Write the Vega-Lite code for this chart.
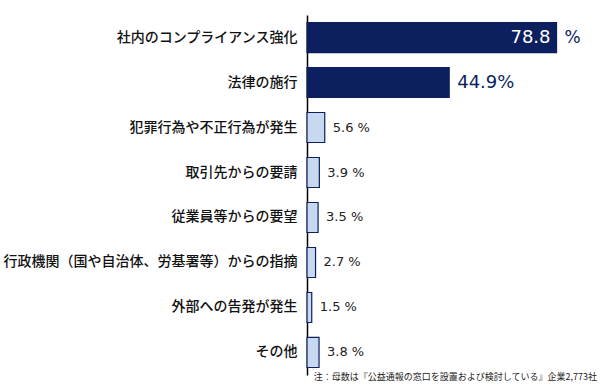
{
  "$schema": "https://vega.github.io/schema/vega-lite/v6.json",
  "width": 285,
  "height": 360,
  "autosize": {"type": "none"},
  "padding": {"left": 307, "top": 15, "right": 14, "bottom": 16},
  "background": "white",
  "title": {
    "text": "注：母数は『公益通報の窓口を設置および検討している』企業2,773社",
    "orient": "bottom",
    "anchor": "end",
    "offset": -2,
    "fontSize": 9,
    "fontWeight": "normal",
    "font": "Noto Sans CJK JP",
    "color": "#222",
    "dx": 5
  },
  "data": {
    "values": [
      {"item": "社内のコンプライアンス強化", "value": 78.8, "group": "dark", "kind": "inside", "label": "78.8"},
      {"item": "法律の施行", "value": 44.9, "group": "dark", "kind": "big", "label": "44.9%"},
      {"item": "犯罪行為や不正行為が発生", "value": 5.6, "group": "light", "kind": "small", "label": "5.6 %"},
      {"item": "取引先からの要請", "value": 3.9, "group": "light", "kind": "small", "label": "3.9 %"},
      {"item": "従業員等からの要望", "value": 3.5, "group": "light", "kind": "small", "label": "3.5 %"},
      {"item": "行政機関（国や自治体、労基署等）からの指摘", "value": 2.7, "group": "light", "kind": "small", "label": "2.7 %"},
      {"item": "外部への告発が発生", "value": 1.5, "group": "light", "kind": "small", "label": "1.5 %"},
      {"item": "その他", "value": 3.8, "group": "light", "kind": "small", "label": "3.8 %"}
    ]
  },
  "encoding": {
    "y": {
      "field": "item",
      "type": "nominal",
      "sort": null,
      "scale": {"paddingInner": 0.333, "paddingOuter": 0.167},
      "axis": {
        "title": null,
        "ticks": false,
        "labelPadding": 10,
        "labelFont": "Noto Sans CJK JP",
        "labelFontSize": 14,
        "labelFontWeight": 500,
        "labelColor": "#111",
        "labelLimit": 320,
        "domainColor": "#000",
        "domainWidth": 1.5
      }
    },
    "x": {
      "field": "value",
      "type": "quantitative",
      "scale": {"domain": [0, 90]},
      "axis": null
    }
  },
  "layer": [
    {
      "mark": {"type": "bar", "strokeWidth": 1.2, "stroke": "#0c1f5e"},
      "encoding": {
        "color": {
          "field": "group",
          "type": "nominal",
          "scale": {"domain": ["dark", "light"], "range": ["#0c1f5e", "#c6d9f0"]},
          "legend": null
        }
      }
    },
    {
      "transform": [{"filter": "datum.kind === 'inside'"}],
      "mark": {"type": "text", "align": "right", "dx": -6, "font": "DejaVu Sans", "fontSize": 18, "color": "white", "baseline": "middle"},
      "encoding": {"text": {"field": "label"}}
    },
    {
      "transform": [{"filter": "datum.kind === 'inside'"}],
      "mark": {"type": "text", "align": "left", "dx": 8, "font": "DejaVu Sans", "fontSize": 17, "color": "#0c1f5e", "baseline": "middle", "text": "%"},
      "encoding": {}
    },
    {
      "transform": [{"filter": "datum.kind === 'big'"}],
      "mark": {"type": "text", "align": "left", "dx": 8, "font": "DejaVu Sans", "fontSize": 18, "color": "#0c1f5e", "baseline": "middle"},
      "encoding": {"text": {"field": "label"}}
    },
    {
      "transform": [{"filter": "datum.kind === 'small'"}],
      "mark": {"type": "text", "align": "left", "dx": 8, "font": "DejaVu Sans", "fontSize": 13, "color": "#222", "baseline": "middle"},
      "encoding": {"text": {"field": "label"}}
    }
  ],
  "config": {"view": {"stroke": null}}
}
